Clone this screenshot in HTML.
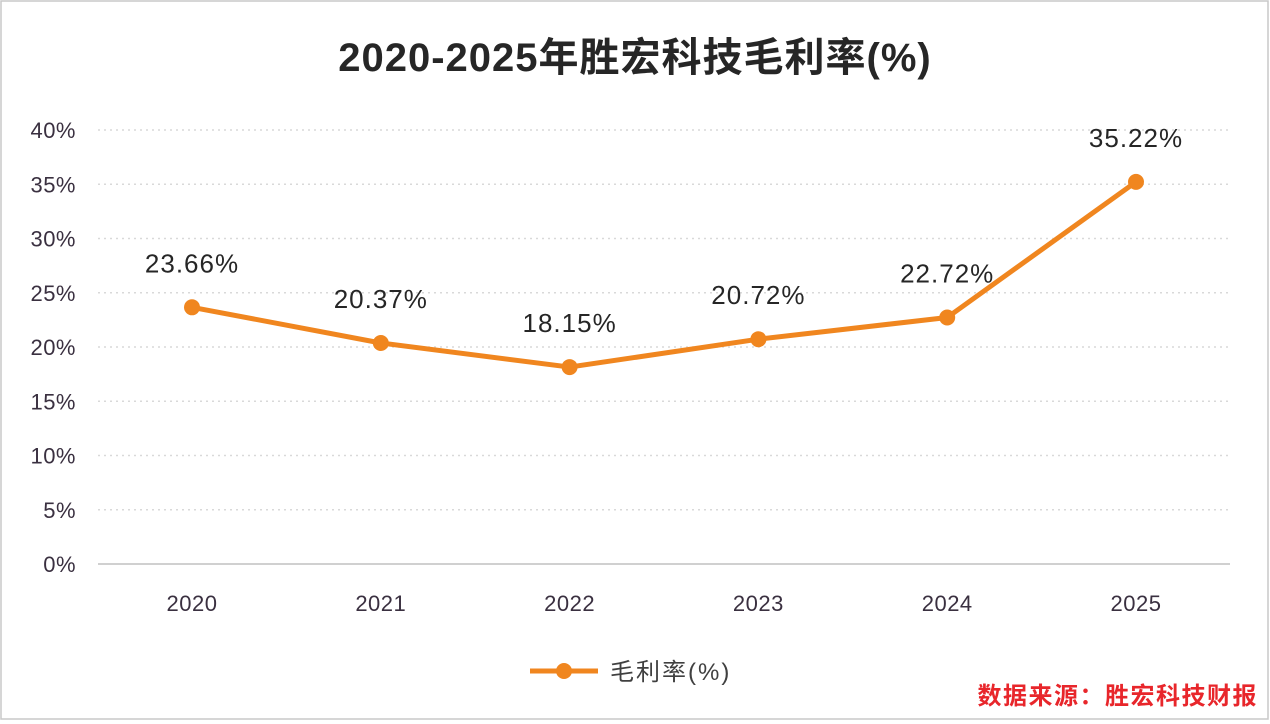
<!DOCTYPE html>
<html><head><meta charset="utf-8"><style>
html,body{margin:0;padding:0;background:#fff;}
svg{display:block;font-family:"Liberation Sans","Noto Sans CJK SC",sans-serif;}
</style></head><body>
<svg id="c" width="1270" height="724" viewBox="0 0 1270 724">
<rect x="1" y="1" width="1267" height="718" fill="#fff" stroke="#c8c8c8" stroke-width="1.5"/>
<text x="635" y="71" text-anchor="middle" font-size="40" font-weight="bold" letter-spacing="1" fill="#262626">2020-2025年胜宏科技毛利率(%)</text>
<g id="grid"></g><g id="yt"></g><g id="xt"></g><g id="series"></g>
<g>
<line x1="530" y1="671" x2="598" y2="671" stroke="#f0861f" stroke-width="5"/>
<circle cx="564" cy="671" r="8" fill="#f0861f"/>
<text x="610" y="680" font-size="24" letter-spacing="2" fill="#404040">毛利率(%)</text>
</g>
<text x="1258" y="704" text-anchor="end" font-size="24" letter-spacing="1.5" fill="#e8262b" font-weight="bold">数据来源：胜宏科技财报</text>
</svg>
<script>
const categories=["2020","2021","2022","2023","2024","2025"];
const values=[23.66,20.37,18.15,20.72,22.72,35.22];
const yTicks=[0,5,10,15,20,25,30,35,40];
const NS="http://www.w3.org/2000/svg";
function y(v){return 564-v*(434/40);}
function x(i){return 192+i*188.8;}
function mk(tag,attrs,parent,txt){const e=document.createElementNS(NS,tag);for(const k in attrs)e.setAttribute(k,attrs[k]);if(txt!==undefined)e.textContent=txt;document.getElementById(parent).appendChild(e);return e;}
yTicks.forEach(t=>{
 const l=mk("line",{x1:98,x2:1230,y1:y(t),y2:y(t),stroke:t===0?"#d0d0d0":"#d9d9d9","stroke-width":t===0?2:1.5,"stroke-dasharray":t===0?"":"2 4"},"grid");
 
 
 const tx=mk("text",{x:76,y:y(t)+8,"text-anchor":"end","font-size":22,"letter-spacing":0.5,fill:"#3a3040"},"yt",t+"%");
 
 
});
categories.forEach((c,i)=>{
 const tx=mk("text",{x:x(i),y:611,"text-anchor":"middle","font-size":22,"letter-spacing":0.5,fill:"#3a3040"},"xt",c);
 
 
});
const pl=mk("polyline",{points:values.map((v,i)=>x(i)+","+y(v)).join(" "),fill:"none",stroke:"#f0861f","stroke-width":5,"stroke-linejoin":"round"},"series");


values.forEach((v,i)=>{
 const p=mk("circle",{cx:x(i),cy:y(v),r:8,fill:"#f0861f"},"series");
 
 
 const t=mk("text",{x:x(i),y:y(v)-35,"text-anchor":"middle","font-size":26,"letter-spacing":1,fill:"#262626"},"series",v.toFixed(2)+"%");
 
 
});
</script>
</body></html>
